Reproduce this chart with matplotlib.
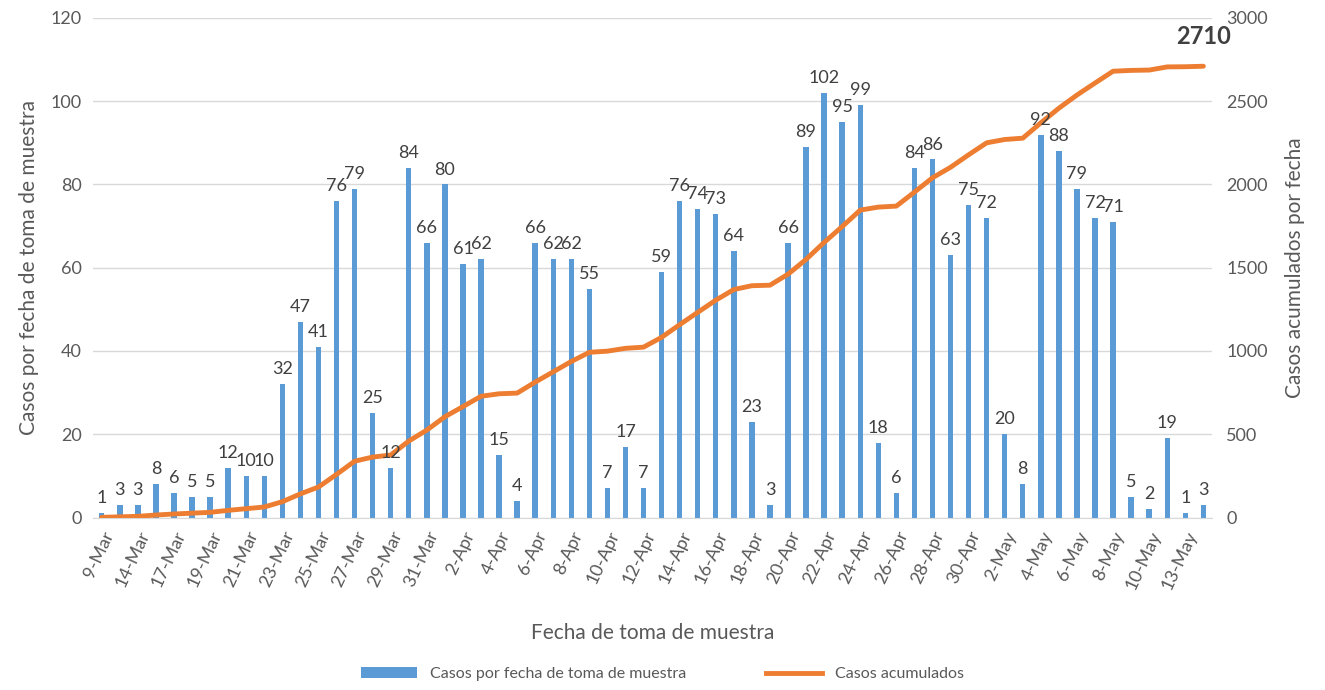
import numpy as np
import matplotlib.pyplot as plt
from matplotlib.lines import Line2D
from matplotlib.patches import Patch

plt.rcParams['font.family'] = ['Lato', 'DejaVu Sans']

# Fechas de toma de muestra (solo se muestra una de cada dos)
dates = ['9-Mar', '13-Mar', '14-Mar', '16-Mar', '17-Mar', '18-Mar', '19-Mar', '20-Mar',
         '21-Mar', '22-Mar', '23-Mar', '24-Mar', '25-Mar', '26-Mar', '27-Mar', '28-Mar',
         '29-Mar', '30-Mar', '31-Mar', '1-Apr', '2-Apr', '3-Apr', '4-Apr', '5-Apr',
         '6-Apr', '7-Apr', '8-Apr', '9-Apr', '10-Apr', '11-Apr', '12-Apr', '13-Apr',
         '14-Apr', '15-Apr', '16-Apr', '17-Apr', '18-Apr', '19-Apr', '20-Apr', '21-Apr',
         '22-Apr', '23-Apr', '24-Apr', '25-Apr', '26-Apr', '27-Apr', '28-Apr', '29-Apr',
         '30-Apr', '1-May', '2-May', '3-May', '4-May', '5-May', '6-May', '7-May',
         '8-May', '9-May', '10-May', '12-May', '13-May', '14-May']

# Casos por fecha de toma de muestra
daily_cases = [1, 3, 3, 8, 6, 5, 5, 12, 10, 10,
               32, 47, 41, 76, 79, 25, 12, 84, 66, 80,
               61, 62, 15, 4, 66, 62, 62, 55, 7, 17,
               7, 59, 76, 74, 73, 64, 23, 3, 66, 89,
               102, 95, 99, 18, 6, 84, 86, 63, 75, 72,
               20, 8, 92, 88, 79, 72, 71, 5, 2, 19,
               1, 3]

# Casos acumulados
cumulative = np.cumsum(daily_cases)

bar_color = '#5B9BD5'
line_color = '#ED7D31'
text_color = '#595959'

fig, ax = plt.subplots(figsize=(13.25, 6.9), dpi=100)
fig.subplots_adjust(left=0.07, right=0.915, top=0.974, bottom=0.25)

x = np.arange(len(dates))
ax.bar(x, daily_cases, width=0.3, color=bar_color, zorder=2)

ax.set_xlim(-0.5, len(dates) - 0.5)
ax.set_ylim(0, 120)
ax.set_yticks(np.arange(0, 121, 20))
ax.grid(axis='y', color='#D9D9D9', linewidth=1, zorder=0)
ax.set_xticks(x[::2])
ax.set_xticklabels(dates[::2], rotation=65, ha='right', rotation_mode='anchor')
ax.tick_params(axis='both', length=0, labelsize=13, colors=text_color, pad=8)
for s in ax.spines.values():
    s.set_visible(False)
ax.spines['bottom'].set_visible(True)
ax.spines['bottom'].set_color('#D9D9D9')
ax.set_ylabel('Casos por fecha de toma de muestra', fontsize=15, color=text_color, labelpad=8)
ax.set_xlabel('Fecha de toma de muestra', fontsize=15, color=text_color, labelpad=22)

ax2 = ax.twinx()
ax2.plot(x, cumulative, color=line_color, linewidth=3.5, solid_capstyle='round', zorder=3)
ax2.set_ylim(0, 3000)
ax2.set_yticks(np.arange(0, 3001, 500))
ax2.tick_params(axis='y', length=0, labelsize=13, colors=text_color, pad=10)
for s in ax2.spines.values():
    s.set_visible(False)
ax2.set_ylabel('Casos acumulados por fecha', fontsize=15, color=text_color, labelpad=12)

# etiquetas de las barras, dibujadas encima de la linea
for xi, v in zip(x, daily_cases):
    ax2.annotate(str(v), (xi, v), xycoords=ax.transData, xytext=(0, 5),
                 textcoords='offset points', ha='center', va='bottom',
                 fontsize=13, color='#404040', zorder=5)

ax2.annotate(str(cumulative[-1]), (x[-1], cumulative[-1]), xytext=(0, 13),
             textcoords='offset points', ha='center', va='bottom',
             fontsize=17, fontweight='bold', color='#404040')

handles = [Patch(facecolor=bar_color, label='Casos por fecha de toma de muestra'),
           Line2D([0], [0], color=line_color, linewidth=3.5, label='Casos acumulados')]
fig.legend(handles=handles, loc='lower center', bbox_to_anchor=(0.5, -0.008), ncol=2,
           frameon=False, fontsize=11.5, labelcolor=text_color, handlelength=3.5,
           columnspacing=5)

fig.savefig('out.png', dpi=100)
